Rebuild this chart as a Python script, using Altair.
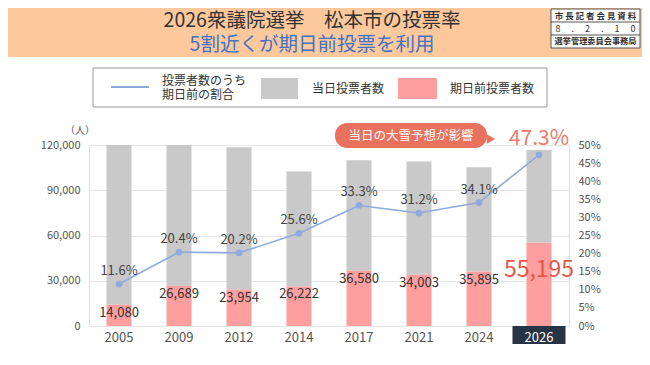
import altair as alt
import pandas as pd

# ---- data ----
years = ["2005", "2009", "2012", "2014", "2017", "2021", "2024", "2026"]
early_votes = [14080, 26689, 23954, 26222, 36580, 34003, 35895, 55195]
same_day_votes = [107300, 104100, 94600, 76200, 73300, 75000, 69400, 61500]
early_pct = [11.6, 20.4, 20.2, 25.6, 33.3, 31.2, 34.1, 47.3]

left_ticks = [0, 30000, 60000, 90000, 120000]
right_ticks = [0, 5, 10, 15, 20, 25, 30, 35, 40, 45, 50]

df = pd.DataFrame({
    "year": years,
    "early": early_votes,
    "same": same_day_votes,
    "pct": early_pct,
})
one = pd.DataFrame({"k": [0]})

FONT = "Noto Sans CJK JP"
GRAY_BAR = "#C9C9C9"
PINK_BAR = "#FF9E9E"
LINE_C = "#8FAADC"

x_enc = alt.X(
    "year:N",
    sort=years,
    title=None,
    scale=alt.Scale(paddingInner=0, paddingOuter=0),
    axis=alt.Axis(
        labelFontSize=13,
        labelFont=FONT,
        labelColor={"condition": {"test": "datum.value == '2026'", "value": "white"}, "value": "#555555"},
        labelPadding=5,
        ticks=False,
        domain=False,
        labelAngle=0,
        zindex=1,
    ),
)

left_scale = alt.Scale(domain=[0, 120000])
right_scale = alt.Scale(domain=[0, 50])
left_axis = alt.Axis(values=left_ticks, labelExpr="format(datum.value, ',')", orient="left",
                     labelFontSize=11, labelFont=FONT,
                     labelColor="#555555", ticks=False, domain=False, labelPadding=9,
                     grid=True, gridColor="#E6E6E6", title=None)
right_axis = alt.Axis(values=right_ticks, orient="right", labelExpr="datum.value + '%'",
                      labelFontSize=11, labelFont=FONT, labelColor="#555555", ticks=False,
                      domain=False, grid=False, labelPadding=9, title=None)
base = alt.Chart(df)

# annotations (pixel-positioned decoration)
header = alt.Chart(one).mark_rect(color="#FDC89C").encode(
    x=alt.value(-81), x2=alt.value(553), y=alt.value(-137), y2=alt.value(-88))
title1 = alt.Chart(one).mark_text(font=FONT, fontSize=19.5, color="#333333", align="center", baseline="middle").encode(
    x=alt.value(223), y=alt.value(-124), text=alt.value("2026衆議院選挙　松本市の投票率"))
title2 = alt.Chart(one).mark_text(font=FONT, fontSize=19.5, color="#4472C4", align="center", baseline="middle").encode(
    x=alt.value(223), y=alt.value(-100), text=alt.value("5割近くが期日前投票を利用"))
box = alt.Chart(one).mark_rect(fill="white", stroke="#555555", strokeWidth=1).encode(
    x=alt.value(462), x2=alt.value(551), y=alt.value(-136), y2=alt.value(-97))
boxline1 = alt.Chart(one).mark_rule(color="#555555", strokeWidth=1).encode(
    x=alt.value(462), x2=alt.value(551), y=alt.value(-123))
boxline2 = alt.Chart(one).mark_rule(color="#555555", strokeWidth=1).encode(
    x=alt.value(462), x2=alt.value(551), y=alt.value(-110))
boxt1 = alt.Chart(one).mark_text(font=FONT, fontSize=8.5, fontWeight="bold", color="#333333").encode(
    x=alt.value(506.5), y=alt.value(-129), text=alt.value("市 長 記 者 会 見 資 料"))
boxt2 = alt.Chart(one).mark_text(font=FONT, fontSize=9, color="#333333").encode(
    x=alt.value(506.5), y=alt.value(-116), text=alt.value("8　 .　 2　 .　 1　 0"))
boxt3 = alt.Chart(one).mark_text(font=FONT, fontSize=8.2, fontWeight="bold", color="#333333").encode(
    x=alt.value(506.5), y=alt.value(-103), text=alt.value("選挙管理委員会事務局"))

leg_box = alt.Chart(one).mark_rect(fill="white", stroke="#999999", strokeWidth=1).encode(
    x=alt.value(4), x2=alt.value(458), y=alt.value(-77), y2=alt.value(-38))
leg_line = alt.Chart(one).mark_rule(color=LINE_C, strokeWidth=2).encode(
    x=alt.value(22), x2=alt.value(60), y=alt.value(-58))
leg_t1a = alt.Chart(one).mark_text(font=FONT, fontSize=12, color="#333333", align="left").encode(
    x=alt.value(73), y=alt.value(-64), text=alt.value("投票者数のうち"))
leg_t1b = alt.Chart(one).mark_text(font=FONT, fontSize=12, color="#333333", align="left").encode(
    x=alt.value(73), y=alt.value(-50), text=alt.value("期日前の割合"))
leg_gray = alt.Chart(one).mark_rect(color=GRAY_BAR).encode(
    x=alt.value(172), x2=alt.value(209), y=alt.value(-67), y2=alt.value(-46))
leg_t2 = alt.Chart(one).mark_text(font=FONT, fontSize=12, color="#333333", align="left").encode(
    x=alt.value(223), y=alt.value(-56), text=alt.value("当日投票者数"))
leg_pink = alt.Chart(one).mark_rect(color=PINK_BAR).encode(
    x=alt.value(309), x2=alt.value(348), y=alt.value(-67), y2=alt.value(-46))
leg_t3 = alt.Chart(one).mark_text(font=FONT, fontSize=12, color="#333333", align="left").encode(
    x=alt.value(361), y=alt.value(-56), text=alt.value("期日前投票者数"))

unit = alt.Chart(one).mark_text(font=FONT, fontSize=10, color="#555555").encode(
    x=alt.value(-9), y=alt.value(-14), text=alt.value("（人）"))

bubble = alt.Chart(one).mark_rect(color="#E9725F", cornerRadius=12).encode(
    x=alt.value(246), x2=alt.value(398), y=alt.value(-22), y2=alt.value(3))
bubble_tail = alt.Chart(one).mark_point(shape="triangle-right", filled=True, color="#E9725F", opacity=1, size=90).encode(
    x=alt.value(402), y=alt.value(-6))
bubble_text = alt.Chart(one).mark_text(font=FONT, fontSize=12.5, color="white").encode(
    x=alt.value(322), y=alt.value(-9), text=alt.value("当日の大雪予想が影響"))

# bars (left axis)
gray_bars = base.mark_bar(size=25, color=GRAY_BAR, clip=True).transform_calculate(
    total="datum.early + datum.same"
).encode(
    x=x_enc,
    y=alt.Y("early:Q", scale=left_scale, axis=left_axis),
    y2="total:Q",
)
pink_bars = base.mark_bar(size=25, color=PINK_BAR, clip=True).encode(
    x=x_enc, y=alt.Y("early:Q", scale=left_scale, axis=left_axis), y2=alt.datum(0))
count_labels = base.transform_filter("datum.year != '2026'").mark_text(
    font=FONT, fontSize=13, color="#333333", dy=8, baseline="middle"
).encode(x=x_enc, y=alt.Y("early:Q", scale=left_scale, axis=left_axis), text=alt.Text("early:Q", format=","))
big_count = base.transform_filter("datum.year == '2026'").mark_text(
    font=FONT, fontSize=23, color="#E5574B", dy=27, baseline="middle"
).encode(x=x_enc, y=alt.Y("early:Q", scale=left_scale, axis=left_axis), text=alt.Text("early:Q", format=","))
hl = base.transform_filter("datum.year == '2026'").mark_bar(size=53, color="#263445").encode(
    x=x_enc, y=alt.value(181), y2=alt.value(199))

left = alt.layer(
    header, title1, title2, box, boxline1, boxline2, boxt1, boxt2, boxt3,
    leg_box, leg_line, leg_t1a, leg_t1b, leg_gray, leg_t2, leg_pink, leg_t3,
    gray_bars, pink_bars, count_labels, big_count, hl, unit,
    bubble, bubble_tail, bubble_text,
)

# line (right axis)
line = base.mark_line(color=LINE_C, strokeWidth=1.6).encode(
    x=x_enc, y=alt.Y("pct:Q", scale=right_scale, axis=right_axis))
pts = base.mark_point(filled=True, color=LINE_C, size=45, opacity=1).encode(
    x=x_enc, y=alt.Y("pct:Q", scale=right_scale, axis=right_axis))
pct_labels = base.transform_filter("datum.year != '2026'").transform_calculate(
    lab="format(datum.pct, '.1f') + '%'"
).mark_text(font=FONT, fontSize=13, color="#444444", dy=-13).encode(
    x=x_enc, y=alt.Y("pct:Q", scale=right_scale, axis=right_axis), text="lab:N")
big_pct = base.transform_filter("datum.year == '2026'").transform_calculate(
    lab="format(datum.pct, '.1f') + '%'"
).mark_text(font=FONT, fontSize=21, color="#EE7B6C", dy=-16).encode(
    x=x_enc, y=alt.Y("pct:Q", scale=right_scale, axis=right_axis), text="lab:N")

right = alt.layer(line, pts, pct_labels, big_pct)

chart = alt.layer(left, right).resolve_scale(y="independent").properties(
    width=480,
    height=181,
    padding={"left": 81, "top": 137, "right": 73, "bottom": 31},
    autosize=alt.AutoSizeParams(type="none"),
).configure_view(stroke=None).configure(background="white")

chart.save("out.html", embed_options={"renderer": "svg", "actions": False})
